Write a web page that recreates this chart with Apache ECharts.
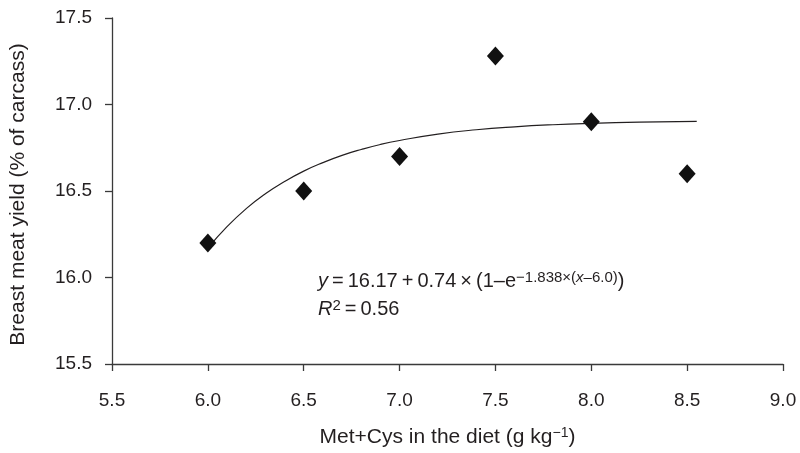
<!DOCTYPE html>
<html><head><meta charset="utf-8">
<script src="https://cdn.jsdelivr.net/npm/echarts@6/dist/echarts.min.js"></script>
<style>html,body{margin:0;padding:0;background:#fff}#c{width:800px;height:453px}</style>
</head><body><div id="c"></div>
<script>
// observed points
const metCys = [6.0, 6.5, 7.0, 7.5, 8.0, 8.5];
const breastYield = [16.2, 16.5, 16.7, 17.28, 16.9, 16.6];
// fitted curve
const curveX = [6.0, 6.1, 6.2, 6.3, 6.4, 6.5, 6.6, 6.7, 6.8, 6.9, 7.0, 7.2, 7.4, 7.6, 7.8, 8.0, 8.25, 8.55];
const curveY = [16.17, 16.294, 16.398, 16.484, 16.555, 16.615, 16.664, 16.706, 16.74, 16.769, 16.792, 16.829, 16.854, 16.871, 16.883, 16.891, 16.898, 16.903];
const xTicks = [5.5, 6.0, 6.5, 7.0, 7.5, 8.0, 8.5, 9.0];
const yTicks = [15.5, 16.0, 16.5, 17.0, 17.5];

const font = '"Liberation Sans", Arial, sans-serif';
const txt = '#231f20';
const axisCol = '#3a3a3a';
const T = '\u2009';
const chart = echarts.init(document.getElementById('c'), null, {renderer: 'canvas'});
chart.setOption({
  animation: false,
  backgroundColor: '#fff',
  grid: {left: 112, right: 17, top: 18, bottom: 89},
  xAxis: {
    type: 'value', min: xTicks[0], max: xTicks[xTicks.length - 1], interval: 0.5,
    axisLine: {show: true, onZero: false, lineStyle: {color: axisCol, width: 1.3}},
    axisTick: {show: true, length: 7, lineStyle: {color: axisCol, width: 1.3}},
    axisLabel: {margin: 27, color: txt, fontSize: 19, fontFamily: font, formatter: v => v.toFixed(1)},
    splitLine: {show: false},
    name: 'Met+Cys in the diet (g kg{s|−1})',
    nameLocation: 'middle', nameGap: 62,
    nameTextStyle: {color: txt, fontSize: 21, fontFamily: font,
      rich: {s: {fontSize: 14, fontFamily: font, color: txt, verticalAlign: 'top', padding: [0, 0, 8, 0]}}}
  },
  yAxis: {
    type: 'value', min: yTicks[0], max: yTicks[yTicks.length - 1], interval: 0.5,
    axisLine: {show: true, onZero: false, lineStyle: {color: axisCol, width: 1.3}},
    axisTick: {show: true, length: 7, lineStyle: {color: axisCol, width: 1.3}},
    axisLabel: {margin: 20, color: txt, fontSize: 19, fontFamily: font, formatter: v => v.toFixed(1)},
    splitLine: {show: false},
    name: 'Breast meat yield (% of carcass)',
    nameLocation: 'middle', nameGap: 83,
    nameTextStyle: {color: txt, fontSize: 21, fontFamily: font, padding: [0, 7, 0, 0]}
  },
  series: [
    {
      type: 'line', data: curveX.map((x, i) => [x, curveY[i]]), smooth: true,
      showSymbol: false, lineStyle: {color: '#231f20', width: 1.2}, z: 2
    },
    {
      type: 'scatter', data: metCys.map((x, i) => [x, breastYield[i]]),
      symbol: 'diamond', symbolSize: [17, 19], itemStyle: {color: '#111', opacity: 1}, z: 3
    }
  ],
  graphic: [
    {type: 'text', left: 318, top: 270, style: {
      text: '{i|y}{n|' + T + '=' + T + '16.17' + T + '+' + T + '0.74' + T + '×' + T + '(1–e}{s|−1.838×(}{si|x}{s|–6.0)}{n|)}',
      rich: {
        i: {fontSize: 20, fontFamily: font, fontStyle: 'italic', fill: txt},
        n: {fontSize: 20, fontFamily: font, fill: txt},
        s: {fontSize: 15, fontFamily: font, fill: txt, verticalAlign: 'top', padding: [0, 0, 8, 0]},
        si: {fontSize: 15, fontFamily: font, fontStyle: 'italic', fill: txt, verticalAlign: 'top', padding: [0, 0, 8, 0]}
      }}},
    {type: 'text', left: 318, top: 298, style: {
      text: '{i|R}{s|2}{n|' + T + '=' + T + '0.56}',
      rich: {
        i: {fontSize: 20, fontFamily: font, fontStyle: 'italic', fill: txt},
        n: {fontSize: 20, fontFamily: font, fill: txt},
        s: {fontSize: 15, fontFamily: font, fill: txt, verticalAlign: 'top', padding: [0, 0, 8, 0]}
      }}}
  ]
});
</script></body></html>
